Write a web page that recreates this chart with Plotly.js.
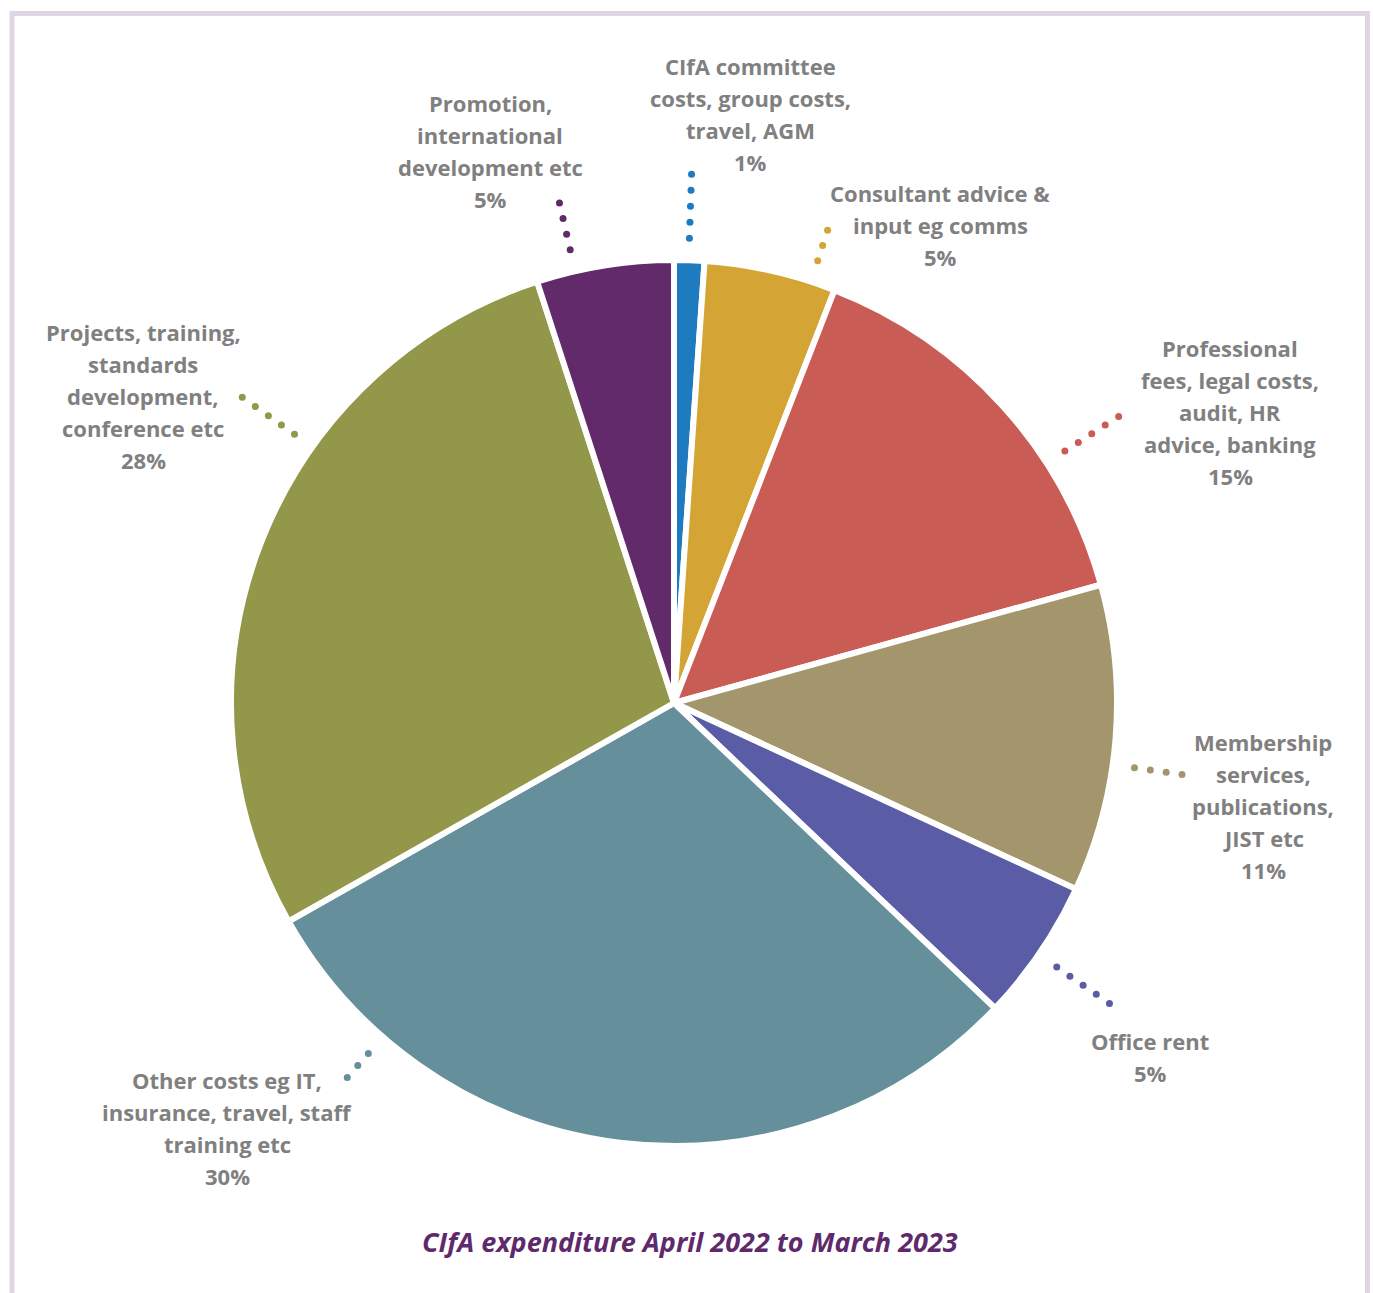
<!DOCTYPE html>
<html>
<head>
<meta charset="utf-8">
<script src="https://cdn.plot.ly/plotly-3.0.1.min.js"></script>
<style>
html,body{margin:0;padding:0;background:#fff;}
#chart{width:1373px;height:1293px;}
</style>
</head>
<body>
<div id="chart"></div>
<script>
// ---- data ----
const categories = [
  "CIfA committee costs, group costs, travel, AGM",
  "Consultant advice & input eg comms",
  "Professional fees, legal costs, audit, HR advice, banking",
  "Membership services, publications, JIST etc",
  "Office rent",
  "Other costs eg IT, insurance, travel, staff training etc",
  "Projects, training, standards development, conference etc",
  "Promotion, international development etc"
];
const values = [1.1, 4.8, 14.8, 11.2, 5.2, 29.7, 28.2, 5.0];
const labelLines = [
  ["CIfA committee", "costs, group costs,", "travel, AGM"],
  ["Consultant advice &", "input eg comms"],
  ["Professional", "fees, legal costs,", "audit, HR", "advice, banking"],
  ["Membership", "services,", "publications,", "JIST etc"],
  ["Office rent"],
  ["Other costs eg IT,", "insurance, travel, staff", "training etc"],
  ["Projects, training,", "standards", "development,", "conference etc"],
  ["Promotion,", "international", "development etc"]
];
const chartTitle = "CIfA expenditure April 2022 to March 2023";

// ---- styling / layout ----
const colors = ["#1f7bbf", "#d4a535", "#c95c55", "#a3966d", "#5a5ca5", "#65909b", "#93974a", "#632a6b"];
const W = 1373, H = 1293;
const cx = 674, cy = 703, R = 443;
// label block placement (centre x, first line y) and leader dots (angle deg clockwise from top, count)
const labelPos = [[750, 66], [940, 193], [1230, 348], [1263, 742], [1150, 1041], [227, 1080], [143, 332], [490, 103]];
const leaderAngle = [1.9, 18.0, 57.2, 98.0, 124.6, 221.1, 305.3, 347.1];
const leaderCount = [5, 3, 5, 4, 5, 3, 5, 4];
const lineGap = 32, dotStart = 465, dotGap = 16;
const labelFont = {family: "'Open Sans', Lato, sans-serif", size: 22, color: "#808080", weight: 700};

const total = values.reduce((a, b) => a + b, 0);
const pctText = values.map(v => Math.round(v / total * 100) + "%");

const pie = {
  type: "pie",
  labels: categories,
  values: values,
  sort: false,
  direction: "clockwise",
  rotation: 0,
  textinfo: "none",
  hoverinfo: "label+percent",
  marker: {colors: colors, line: {color: "#ffffff", width: 6}},
  domain: {x: [(cx - R) / W, (cx + R) / W], y: [1 - (cy + R) / H, 1 - (cy - R) / H]},
  showlegend: false
};

const dx = [], dy = [], dc = [];
leaderAngle.forEach((a, i) => {
  const t = a * Math.PI / 180;
  for (let k = 0; k < leaderCount[i]; k++) {
    const r = dotStart + k * dotGap;
    dx.push(cx + r * Math.sin(t));
    dy.push(cy - r * Math.cos(t));
    dc.push(colors[i]);
  }
});
const dots = {
  type: "scatter", mode: "markers", x: dx, y: dy,
  marker: {color: dc, size: 7, line: {width: 0}},
  hoverinfo: "skip", showlegend: false
};

const annotations = [];
labelLines.forEach((lines, i) => {
  const all = lines.concat([pctText[i]]);
  all.forEach((txt, j) => {
    annotations.push({
      x: labelPos[i][0], y: labelPos[i][1] + j * lineGap, xref: "x", yref: "y",
      text: txt, showarrow: false, xanchor: "center", yanchor: "middle",
      font: labelFont
    });
  });
});
annotations.push({
  x: 690, y: 1241, xref: "x", yref: "y", text: chartTitle, showarrow: false,
  xanchor: "center", yanchor: "middle",
  font: {family: "'Open Sans', Lato, sans-serif", size: 27, color: "#5f2a6b", weight: 700, style: "italic"}
});

const layout = {
  width: W, height: H,
  margin: {l: 0, r: 0, t: 0, b: 0},
  paper_bgcolor: "#ffffff", plot_bgcolor: "rgba(0,0,0,0)",
  xaxis: {range: [0, W], visible: false, fixedrange: true},
  yaxis: {range: [H, 0], visible: false, fixedrange: true},
  showlegend: false,
  annotations: annotations,
  shapes: [{type: "rect", xref: "x", yref: "y", x0: 12, x1: 1367.5, y0: 13.5, y1: 1330,
            line: {color: "#e1d5e5", width: 5}, fillcolor: "rgba(0,0,0,0)", layer: "below"}]
};

Plotly.newPlot("chart", [pie, dots], layout, {displayModeBar: false, staticPlot: true});
</script>
</body>
</html>
